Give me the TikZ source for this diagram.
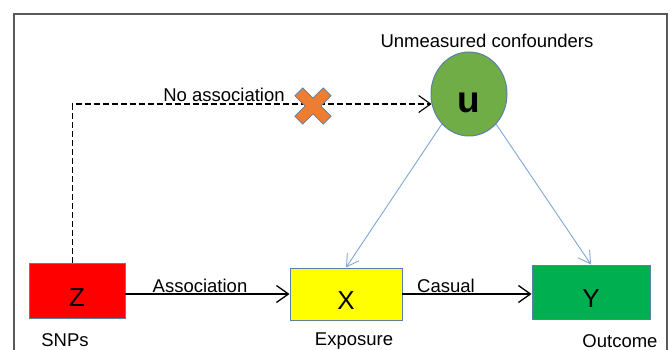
\documentclass[tikz,border=0pt]{standalone}
\usepackage{fontspec}
\setmainfont{Liberation Sans}
\usetikzlibrary{positioning,arrows.meta,shapes.geometric}

\definecolor{edgeblue}{HTML}{5B7FA6}
\definecolor{linkblue}{HTML}{7FA7D3}
\definecolor{snpred}{HTML}{FF0000}
\definecolor{expyellow}{HTML}{FFFF00}
\definecolor{outgreen}{HTML}{00B050}
\definecolor{confgreen}{HTML}{70AD47}
\definecolor{stoporange}{HTML}{ED7D31}

\tikzset{
  var/.style={
    draw=edgeblue, line width=0.9pt, inner sep=0pt,
    text height=31.5pt, text depth=0pt,
    font=\fontsize{26}{26}\selectfont,
  },
  confounder/.style={
    ellipse, draw=edgeblue, line width=1pt, fill=confgreen, inner sep=0pt,
    minimum width=76pt, minimum height=84pt,
    text height=38pt, text depth=0pt,
    font=\fontsize{37}{37}\selectfont\bfseries,
  },
  lbl/.style={font=\fontsize{18.5}{20}\selectfont, inner sep=0pt},
  flow/.style={-{Straight Barb[length=12pt,width=17pt]}, line width=1.3pt},
  noflow/.style={flow, line width=1.1pt, dash pattern=on 6pt off 3pt},
  link/.style={-{Straight Barb[length=12pt,width=14pt]}, draw=linkblue, line width=0.9pt},
  stopmark/.style={fill=stoporange, draw=edgeblue, line width=0.7pt},
  frame/.style={draw=black!65, line width=1.2pt},
}

\begin{document}
\begin{tikzpicture}[x=1pt, y=-1pt]
\useasboundingbox (0,0) rectangle (670,350);

% ---- outer frame (open at the bottom) -------------------------------------
\draw[frame] (14,350) |- (667,14) -- (667,350);

% ---- variables -------------------------------------------------------------
\node[var, fill=snpred,    minimum width=96pt,  minimum height=55pt] (z) at (77,290.5) {Z};
\node[var, fill=expyellow, minimum width=112pt, minimum height=52pt] (x) at (346,294)  {X};
\node[var, fill=outgreen,  minimum width=118pt, minimum height=54pt] (y) at (591,292)  {Y};
\node[confounder] (u) at (469,94) {u};

% ---- names under / over the variables --------------------------------------
\node[lbl] (snps) at (65,340)  {SNPs};
\node[lbl] (expo) at (354,341) {Exposure};
\node[lbl] (outc) at (620,341) {Outcome};
\node[lbl] (conf) at (487,41)  {Unmeasured confounders};

% ---- paths -----------------------------------------------------------------
\draw[flow] (z.east |- x) -- (x);
\draw[flow] (x) -- (x -| y.west);
\draw[link] (u.228) -- (x.north);
\draw[link] (u.312) -- (y.north);
\draw[noflow] (z.100) |- (u.195);

\node[lbl] (assoc)   at (200,286) {Association};
\node[lbl] (causal)  at (446,286) {Casual};
\node[lbl] (noassoc) at (224,95)  {No association};

% ---- the cross that blocks the dashed path ---------------------------------
\coordinate (block) at (313,106);
\draw[stopmark, shift={(block)}, rotate=45]
  (5.5,20) -- (5.5,5.5) -- (20,5.5) -- (20,-5.5) -- (5.5,-5.5) -- (5.5,-20)
  -- (-5.5,-20) -- (-5.5,-5.5) -- (-20,-5.5) -- (-20,5.5) -- (-5.5,5.5)
  -- (-5.5,20) -- cycle;

\end{tikzpicture}
\end{document}
